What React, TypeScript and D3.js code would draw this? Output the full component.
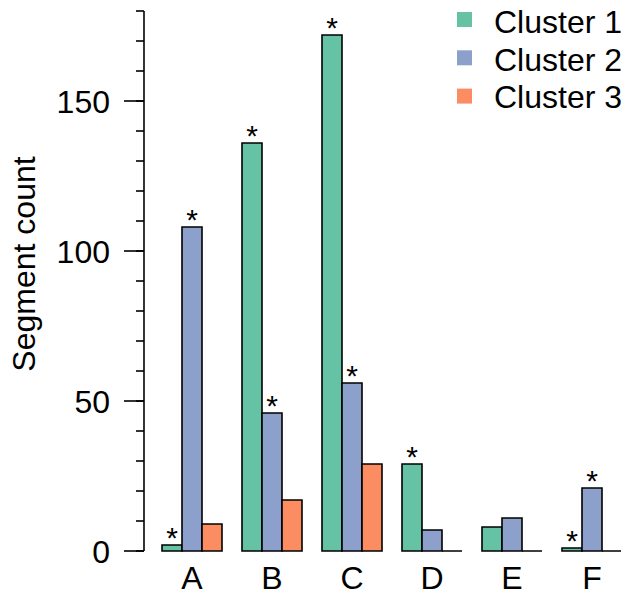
import React from "react";
import * as d3 from "d3";

const categories = ["A", "B", "C", "D", "E", "F"];
const seriesNames = ["Cluster 1", "Cluster 2", "Cluster 3"];
const cluster1 = [2, 136, 172, 29, 8, 1];
const cluster2 = [108, 46, 56, 7, 11, 21];
const cluster3 = [9, 17, 29, 0, 0, 0];
const sig1 = [true, true, true, true, false, true];
const sig2 = [true, true, true, false, false, true];
const sig3 = [false, false, false, false, false, false];
const colors = ["#66C2A5", "#8DA0CB", "#FC8D62"];
const majorTicks = [0, 50, 100, 150];
const minorTicks = d3.range(0, 181, 10);

const W = 621;
const H = 593;
const FONT = "'Liberation Sans', Arial, sans-serif";

export default function App() {
  const values = [cluster1, cluster2, cluster3];
  const sigs = [sig1, sig2, sig3];
  const y = d3.scaleLinear().domain([0, 180]).range([551, 11]);
  const x = d3
    .scaleBand<string>()
    .domain(categories)
    .range([162, 622])
    .paddingInner(0.25)
    .paddingOuter(0);
  const xs = d3
    .scaleBand<string>()
    .domain(seriesNames)
    .range([0, x.bandwidth()])
    .padding(0);
  const axisX = 144;

  const bars: React.ReactNode[] = [];
  const stars: React.ReactNode[] = [];
  categories.forEach((c, i) => {
    seriesNames.forEach((s, j) => {
      const v = values[j][i];
      const x0 = (x(c) as number) + (xs(s) as number);
      const w = xs.bandwidth();
      const y0 = y(0);
      const y1 = y(v);
      const p = d3.path();
      p.moveTo(x0, y0);
      p.lineTo(x0, y1);
      p.lineTo(x0 + w, y1);
      p.lineTo(x0 + w, y0);
      p.closePath();
      bars.push(
        <path
          key={`b${i}-${j}`}
          d={p.toString()}
          fill={colors[j]}
          stroke="#000"
          strokeWidth={1.6}
        />
      );
      if (sigs[j][i]) {
        stars.push(
          <text
            key={`s${i}-${j}`}
            x={x0 + w / 2}
            y={y1 + 3}
            textAnchor="middle"
            fontSize={30}
            fontFamily={FONT}
          >
            *
          </text>
        );
      }
    });
  });

  return (
    <svg
      width={W}
      height={H}
      style={{ position: "absolute", left: 0, top: 0, background: "#fff" }}
    >
      <line x1={axisX} x2={axisX} y1={y(0)} y2={y(180)} stroke="#000" strokeWidth={1.6} />
      {minorTicks.map((t) => (
        <line
          key={`mi${t}`}
          x1={axisX - 8}
          x2={axisX}
          y1={y(t)}
          y2={y(t)}
          stroke="#000"
          strokeWidth={1.6}
        />
      ))}
      {majorTicks.map((t) => (
        <g key={`ma${t}`}>
          <line x1={axisX - 20} x2={axisX} y1={y(t)} y2={y(t)} stroke="#000" strokeWidth={1.6} />
          <text
            x={axisX - 34}
            y={y(t) + 11.5}
            textAnchor="end"
            fontSize={32}
            fontFamily={FONT}
          >
            {t}
          </text>
        </g>
      ))}
      <text
        transform={`translate(35, 264) rotate(-90)`}
        textAnchor="middle"
        fontSize={32}
        fontFamily={FONT}
      >
        Segment count
      </text>
      {bars}
      {stars}
      {categories.map((c) => (
        <text
          key={`x${c}`}
          x={(x(c) as number) + x.bandwidth() / 2}
          y={589}
          textAnchor="middle"
          fontSize={32}
          fontFamily={FONT}
        >
          {c}
        </text>
      ))}
      {seriesNames.map((s, j) => (
        <g key={`l${s}`}>
          <rect x={457} y={12 + j * 38.3} width={15} height={15} fill={colors[j]} />
          <text x={494} y={33 + j * 37.7} fontSize={32} fontFamily={FONT}>
            {s}
          </text>
        </g>
      ))}
    </svg>
  );
}
